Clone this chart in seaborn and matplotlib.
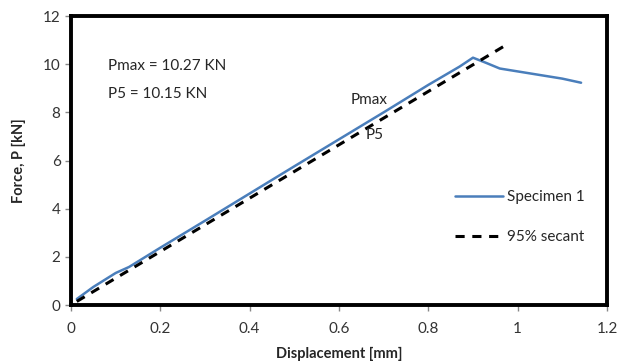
import pandas as pd
import matplotlib
matplotlib.use("Agg")
import matplotlib.pyplot as plt
import seaborn as sns

# specimen curve
disp = [0.013, 0.05, 0.10, 0.13, 0.20, 0.30, 0.40, 0.50, 0.60, 0.70, 0.80, 0.87,
        0.90, 0.93, 0.96, 1.00, 1.05, 1.10, 1.142]
force = [0.25, 0.75, 1.33, 1.58, 2.38, 3.50, 4.63, 5.76, 6.88, 8.00, 9.14, 9.90,
         10.27, 10.05, 9.82, 9.70, 9.55, 9.40, 9.23]

# 95% secant line
sec_disp = [0.013, 0.977]
sec_force = [0.15, 10.83]

x_ticks = [0, 0.2, 0.4, 0.6, 0.8, 1, 1.2]
x_tick_labels = ["0", "0.2", "0.4", "0.6", "0.8", "1", "1.2"]
y_ticks = [0, 2, 4, 6, 8, 10, 12]

spec = pd.DataFrame({"disp": disp, "force": force})
sec = pd.DataFrame({"disp": sec_disp, "force": sec_force})

sns.set_style("white")
plt.rcParams['font.family'] = ['Lato', 'DejaVu Sans']

fig = plt.figure(figsize=(6.2, 3.64), dpi=100)
ax = fig.add_axes([0.1145, 0.162, 0.8645, 0.794])

sns.lineplot(data=spec, x="disp", y="force", sort=False, color="#4a7ebb",
             linewidth=1.8, label="Specimen 1", ax=ax)
sns.lineplot(data=sec, x="disp", y="force", sort=False, color="black",
             linewidth=2.2, linestyle=(0, (3, 2.5)), label="95% secant", ax=ax)

ax.set_xlim(0, 1.2)
ax.set_ylim(0, 12)
ax.set_xticks(x_ticks)
ax.set_xticklabels(x_tick_labels)
ax.set_yticks(y_ticks)
ax.tick_params(axis="both", labelsize=11, direction="out", length=4,
               width=1, color="#888888", colors="#333333", bottom=True, left=True)
ax.tick_params(axis="x", pad=8)

for s in ax.spines.values():
    s.set_linewidth(2.8)
    s.set_color("black")

ax.set_xlabel("Displacement [mm]", fontsize=10.5, fontweight="bold", labelpad=8)
ax.set_ylabel("Force, P [kN]", fontsize=10.5, fontweight="bold", labelpad=12)

ax.text(0.083, 9.75, "Pmax = 10.27 KN", fontsize=11)
ax.text(0.083, 8.6, "P5 = 10.15 KN", fontsize=11)
ax.text(0.625, 8.35, "Pmax", fontsize=11)
ax.text(0.66, 6.9, "P5", fontsize=11)

ax.legend(loc="center left", bbox_to_anchor=(0.69, 0.305), frameon=False,
          fontsize=11, handlelength=3.2, labelspacing=1.7, handletextpad=0.2)

fig.savefig("out.png", dpi=100)
